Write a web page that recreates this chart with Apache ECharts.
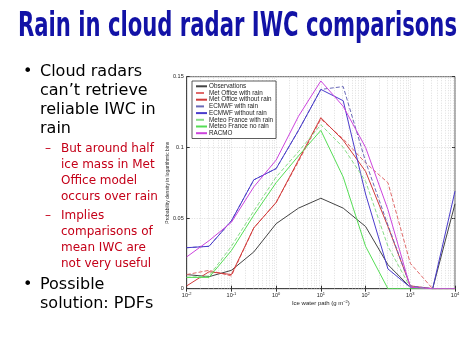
<!DOCTYPE html>
<html><head><meta charset="utf-8">
<script src="https://cdn.jsdelivr.net/npm/echarts@6/dist/echarts.min.js"></script>
<style>html,body{margin:0;padding:0;background:#fff}#c{width:474px;height:355px}</style>
</head><body><div id="c"></div>
<script>
// ---- data ----
const binExponents = [-2, -1.5, -1, -0.5, 0, 0.5, 1, 1.5, 2, 2.5, 3, 3.5, 4];
const seriesNames = ["Observations", "Met Office with rain", "Met Office without rain", "ECMWF with rain", "ECMWF without rain", "Meteo France with rain", "Meteo France no rain", "RACMO"];
const observations      = [0.010, 0.0085, 0.013, 0.026, 0.046, 0.057, 0.064, 0.057, 0.044, 0.017, 0.001, 0, 0.060];
const metOfficeWithRain = [0.010, 0.013, 0.009, 0.043, 0.061, 0.090, 0.120, 0.106, 0.089, 0.075, 0.018, 0, 0];
const metOfficeNoRain   = [0.002, 0.012, 0.010, 0.043, 0.061, 0.091, 0.121, 0.105, 0.083, 0.044, 0.002, 0, 0];
const ecmwfWithRain     = [0.029, 0.030, 0.048, 0.077, 0.085, 0.112, 0.141, 0.143, 0.090, 0.045, 0.002, 0, 0];
const ecmwfNoRain       = [0.029, 0.030, 0.048, 0.077, 0.085, 0.112, 0.141, 0.133, 0.067, 0.014, 0.001, 0, 0.069];
const meteoFranceWithRain = [0.008, 0.009, 0.030, 0.055, 0.079, 0.097, 0.116, 0.100, 0.076, 0.030, 0.001, 0, 0];
const meteoFranceNoRain   = [0.008, 0.008, 0.027, 0.052, 0.075, 0.094, 0.112, 0.079, 0.030, 0, 0, 0, 0];
const racmo             = [0.0225, 0.034, 0.047, 0.072, 0.091, 0.122, 0.147, 0.129, 0.100, 0.056, 0.001, 0, 0];
const yTicks = [0, 0.05, 0.1, 0.15];
const titleText = "Rain in cloud radar IWC comparisons";
const mainBullets1 = ["Cloud radars", "can\u2019t retrieve", "reliable IWC in", "rain"];
const subBullets1 = ["But around half", "ice mass in Met", "Office model", "occurs over rain"];
const subBullets2 = ["Implies", "comparisons of", "mean IWC are", "not very useful"];
const mainBullets2 = ["Possible", "solution: PDFs"];

// ---- styles ----
const allValues = [observations, metOfficeWithRain, metOfficeNoRain, ecmwfWithRain, ecmwfNoRain, meteoFranceWithRain, meteoFranceNoRain, racmo];
const styles = [
  {color:'#444444', type:'solid'},
  {color:'#e06a6a', type:'dashed'},
  {color:'#d03a3a', type:'solid'},
  {color:'#6a6ab8', type:'dashed'},
  {color:'#4a3ccc', type:'solid'},
  {color:'#88dd88', type:'dashed'},
  {color:'#55dd55', type:'solid'},
  {color:'#cc44dd', type:'solid'}
];

const minorLines = [];
for (let n = -2; n < 4; n++) for (let k = 2; k <= 9; k++) minorLines.push({xAxis: k * Math.pow(10, n)});

const series = seriesNames.map((name, i) => ({
  name, type:'line', symbol:'none', showSymbol:false, smooth:false, animation:false,
  data: binExponents.map((e, j) => [Math.pow(10, e), allValues[i][j]]),
  lineStyle:{color:styles[i].color, type:styles[i].type, width:1},
  itemStyle:{color:styles[i].color},
  z: 5,
  markLine: i === 0 ? {silent:true, symbol:'none', label:{show:false}, animation:false,
    lineStyle:{color:'#c8c8c8', type:[1,1.5], width:0.6}, data: minorLines} : undefined
}));

const supLabel = v => '10{s|' + Math.round(Math.log10(v)) + '}';
const tickFont = {fontSize:5.5, color:'#222', fontFamily:'Liberation Sans'};

// title width fit
const titleFont = 'bold 33px "DejaVu Sans"';
const cv = document.createElement('canvas').getContext('2d');
cv.font = titleFont;
const titleScale = 439 / cv.measureText(titleText).width;

const chart = echarts.init(document.getElementById('c'), null, {renderer:'canvas'});
const graphics = [];
graphics.push({type:'text', x:237.5, y:27, scaleX:titleScale, z:10,
  style:{text:titleText, textAlign:'center', textVerticalAlign:'middle', font:titleFont, fill:'#1212a6'}});
const addLines = (lines, x, y0, dy, font, color, bullet, bx) => {
  lines.forEach((t, i) => graphics.push({type:'text', x, y:y0 + i*dy, style:{text:t, textVerticalAlign:'middle', font, fill:color}}));
  graphics.push({type:'text', x:bx, y:y0, style:{text:bullet, textVerticalAlign:'middle', font, fill:color}});
};
addLines(mainBullets1, 40, 72, 19, '16px "DejaVu Sans"', '#000', '\u2022', 23);
addLines(subBullets1, 61, 149, 16, '12px "DejaVu Sans"', '#c40018', '\u2013', 45);
addLines(subBullets2, 61, 216, 16, '12px "DejaVu Sans"', '#c40018', '\u2013', 45);
addLines(mainBullets2, 40, 285, 18.5, '16px "DejaVu Sans"', '#000', '\u2022', 23);

chart.setOption({
  animation:false,
  backgroundColor:'#fff',
  grid:{left:186.7, right:19, top:76.7, bottom:66.3, show:true, borderColor:'#333', borderWidth:0.8},
  legend:{orient:'vertical', left:192, top:81, data:seriesNames, itemWidth:11, itemHeight:5, itemGap:0.1,
    padding:[2,3,2,3], borderColor:'#333', borderWidth:0.8, backgroundColor:'#fff',
    itemStyle:{opacity:0},
    textStyle:{fontSize:6.3, lineHeight:6.6, color:'#222', fontFamily:'Liberation Sans', padding:[0,0,0,-3]}, selectedMode:false, z:20},
  xAxis:[{type:'log', logBase:10, min:0.01, max:10000, interval:1,
    name:'Ice water path (g m{s|\u22122})', nameLocation:'middle', nameGap:11, nameMoveOverlap:false,
    nameTextStyle:{fontSize:6, color:'#222', fontFamily:'Liberation Sans', rich:{s:{fontSize:4, verticalAlign:'top', padding:[0,0,3,0]}}},
    axisLine:{lineStyle:{color:'#333', width:0.8}},
    axisTick:{inside:true, length:3, lineStyle:{color:'#333'}},
    axisLabel:{...tickFont, margin:3, formatter:supLabel, rich:{s:{fontSize:4, verticalAlign:'top', padding:[0,0,3,0]}}},
    splitLine:{show:true, lineStyle:{color:'#c8c8c8', type:[1,1.5], width:0.6}}},
    {type:'log', logBase:10, min:0.01, max:10000, interval:1, position:'top',
    axisLine:{show:false}, axisTick:{inside:true, length:3, lineStyle:{color:'#333'}}, axisLabel:{show:false}, splitLine:{show:false}}],
  yAxis:[{type:'value', min:0, max:0.15, interval:0.05,
    name:'Probability density in logarithmic bins', nameLocation:'middle', nameGap:17, nameRotate:90, nameMoveOverlap:false,
    nameTextStyle:{fontSize:5, color:'#333', fontFamily:'Liberation Sans'},
    axisLine:{show:true, lineStyle:{color:'#333', width:0.8}},
    axisTick:{show:true, inside:true, length:3, lineStyle:{color:'#333'}},
    axisLabel:{...tickFont, margin:3, formatter: v => yTicks.includes(+v.toFixed(2)) ? String(+v.toFixed(2)) : ''},
    splitLine:{show:true, lineStyle:{color:'#c8c8c8', type:[1,1.5], width:0.6}}},
    {type:'value', min:0, max:0.15, interval:0.05, position:'right',
    axisLine:{show:false}, axisTick:{show:true, inside:true, length:3, lineStyle:{color:'#333'}}, axisLabel:{show:false}, splitLine:{show:false}}],
  graphic: graphics,
  series
});
</script></body></html>
